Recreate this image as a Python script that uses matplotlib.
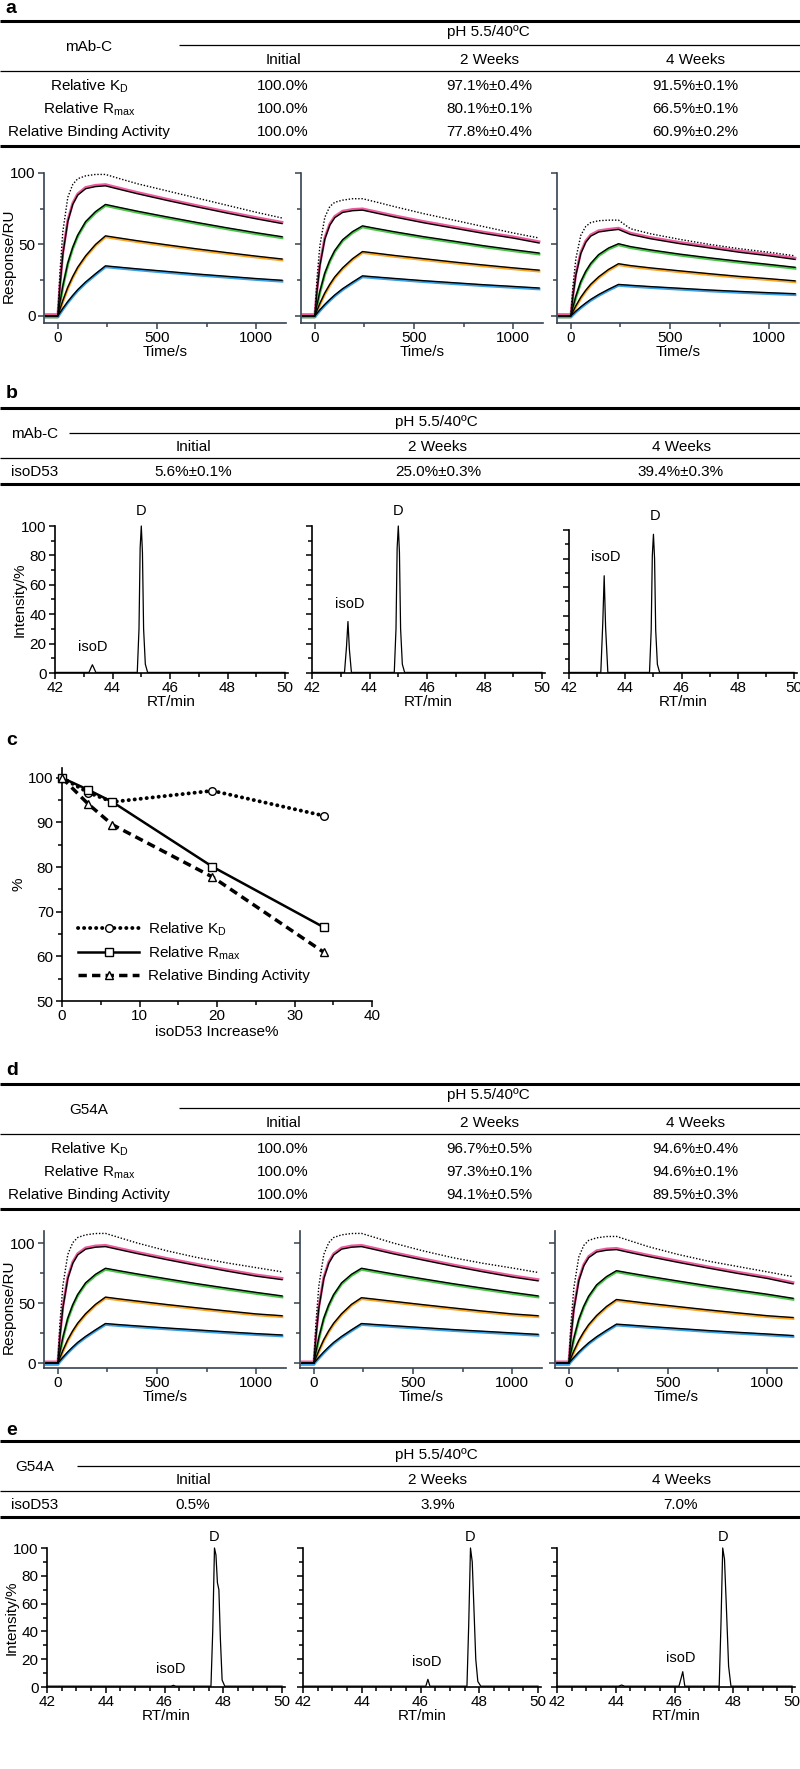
import matplotlib
matplotlib.use('Agg')
import matplotlib.pyplot as plt
from matplotlib.ticker import MultipleLocator
from matplotlib.transforms import offset_copy

plt.rcParams['font.family'] = ['Liberation Sans', 'DejaVu Sans']
plt.rcParams['mathtext.fontset'] = 'custom'
plt.rcParams['mathtext.rm'] = 'Liberation Sans'

W, H = 800, 1769

# ---- table contents ----
TIME_POINTS = ['Initial', '2 Weeks', '4 Weeks']
CONDITION = 'pH 5.5/40ºC'
ROW_NAMES = [r'Relative K$_\mathregular{D}$', r'Relative R$_\mathregular{max}$',
             'Relative Binding Activity']
MABC_BINDING = [['100.0%', '97.1%±0.4%', '91.5%±0.1%'],
                ['100.0%', '80.1%±0.1%', '66.5%±0.1%'],
                ['100.0%', '77.8%±0.4%', '60.9%±0.2%']]
G54A_BINDING = [['100.0%', '96.7%±0.5%', '94.6%±0.4%'],
                ['100.0%', '97.3%±0.1%', '94.6%±0.1%'],
                ['100.0%', '94.1%±0.5%', '89.5%±0.3%']]
MABC_ISOD = ['5.6%±0.1%', '25.0%±0.3%', '39.4%±0.3%']
G54A_ISOD = ['0.5%', '3.9%', '7.0%']

# ---- sensorgrams: reference (dotted), then 4 concentrations ----
SPR_T = [-60, 0, 10, 25, 50, 75, 100, 140, 190, 240, 300, 400, 550, 700, 850, 1000, 1130]
SPR_A_INITIAL = [
    [0, 0, 30, 59, 83, 92, 96, 98, 99, 99, 96.5, 92.5, 87.5, 82.5, 77.5, 72.5, 68.5],
    [0, 0, 20, 43, 66, 78, 84.5, 89, 90.5, 91, 88.9, 85.5, 80.8, 76.3, 72, 67.9, 64.6],
    [0, 0, 9, 21, 37, 48, 56.5, 66, 73, 78, 76.2, 73.3, 69.3, 65.4, 61.7, 58.2, 55.4],
    [0, 0, 4.5, 10.7, 20, 27.5, 34, 42, 50, 56, 54.7, 52.6, 49.7, 46.9, 44.3, 41.8, 39.8],
    [0, 0, 2.1, 5.2, 10, 14.3, 18.3, 23.7, 29.5, 35, 34.2, 32.9, 31.1, 29.3, 27.7, 26.1, 24.9]]
SPR_A_2W = [
    [0, 0, 25, 49, 69, 76.5, 79.5, 81, 82, 82, 80, 76.5, 71.5, 67, 62.5, 58, 54.5],
    [0, 0, 16.3, 35, 53.7, 63.4, 68.7, 72.4, 73.6, 74, 72.2, 69.2, 65.1, 61.4, 57.7, 54.4, 51],
    [0, 0, 7.3, 17, 29.9, 38.8, 45.7, 53.3, 59, 63, 61.4, 58.9, 55.4, 52.3, 49.1, 46.3, 44],
    [0, 0, 3.6, 8.6, 16, 22, 27.2, 33.6, 40, 45, 44, 42.3, 40, 37.7, 35.6, 33.6, 32],
    [0, 0, 1.7, 4.2, 8, 11.4, 14.6, 19, 23.6, 28, 27.3, 26.2, 24.6, 23.2, 21.8, 20.6, 19.5]]
SPR_A_4W = [
    [0, 0, 20.4, 40, 56.4, 62.6, 65.3, 66.6, 67, 67, 61, 57.5, 53.5, 50, 47, 44.5, 42],
    [0, 0, 13.2, 28.4, 43.6, 51.5, 55.8, 58.7, 59.7, 60.5, 57, 54, 50.5, 47.5, 44.5, 42, 39.5],
    [0, 0, 5.9, 13.7, 24, 31.2, 36.7, 42.9, 47.5, 50.5, 48.5, 46.2, 43.2, 40.6, 38.2, 36, 34],
    [0, 0, 2.9, 7, 13, 17.9, 22.1, 27.3, 32.5, 36.5, 35.2, 33.6, 31.5, 29.5, 27.6, 26, 24.5],
    [0, 0, 1.3, 3.3, 6.3, 9, 11.5, 14.9, 18.6, 22, 21.4, 20.5, 19.3, 18.1, 17.1, 16.2, 15.5]]
SPR_D_INITIAL = [
    [0, 0, 32.7, 64.3, 90.5, 100.3, 104.6, 106.8, 107.9, 108, 105, 100, 93.5, 88, 83.5, 79.5, 76],
    [0, 0, 21.3, 45.8, 70.4, 83.1, 90.1, 94.9, 96.5, 97, 94.8, 91.2, 86.1, 81.3, 76.7, 72.4, 69.5],
    [0, 0, 9.1, 21.3, 37.5, 48.6, 57.2, 66.9, 74, 79, 77.2, 74.3, 70.2, 66.2, 62.5, 58.9, 56],
    [0, 0, 4.4, 10.5, 19.6, 27, 33.3, 41.2, 49, 55, 53.7, 51.7, 48.8, 46.1, 43.5, 41, 39.5],
    [0, 0, 2, 4.9, 9.4, 13.5, 17.3, 22.3, 27.8, 33, 32.2, 31, 29.3, 27.7, 26.1, 24.6, 23.5]]
SPR_D_2W = [
    [0, 0, 32.7, 64.3, 90.5, 100.3, 104.6, 106.8, 107.9, 108, 105, 100, 93.5, 87.8, 83.2, 79.2, 75.5],
    [0, 0, 21.3, 45.8, 70.4, 83.1, 90.1, 94.9, 96.5, 97, 94.8, 91, 85.8, 80.8, 76.1, 71.7, 68.5],
    [0, 0, 9.1, 21.3, 37.5, 48.6, 57.2, 66.9, 74, 79, 77.2, 74.3, 70.2, 66.2, 62.5, 58.9, 56],
    [0, 0, 4.4, 10.5, 19.6, 27, 33.3, 41.2, 49, 54.5, 53.4, 51.5, 48.7, 46, 43.4, 41, 39.5],
    [0, 0, 2, 4.9, 9.4, 13.5, 17.3, 22.3, 27.8, 33, 32.3, 31.2, 29.6, 28, 26.6, 25.2, 24]]
SPR_D_4W = [
    [0, 0, 31.9, 62.8, 88.4, 98, 102.2, 104.3, 105.4, 105.5, 102.3, 97, 90.5, 85, 80.5, 76, 72],
    [0, 0, 20.8, 44.6, 68.6, 81, 87.8, 92.5, 94, 94.5, 92.3, 88.8, 83.9, 79.2, 74.7, 70.5, 66],
    [0, 0, 8.9, 20.8, 36.5, 47.4, 55.8, 65.2, 72.1, 77, 75.2, 72.4, 68.4, 64.5, 60.9, 57.4, 54],
    [0, 0, 4.2, 10.1, 18.9, 26, 32.1, 39.7, 47.2, 53, 51.8, 49.8, 47.1, 44.4, 41.9, 39.5, 38],
    [0, 0, 2, 4.8, 9.3, 13.3, 17, 22, 27.4, 32.5, 31.8, 30.6, 28.9, 27.2, 25.7, 24.3, 23]]
SPR_COLORS = ['#ee5a9e', '#49c449', '#f7a428', '#3a9ee2']
SPR_SHIFT = [1.3, -1.1, -1.0, -1.0]   # data trace sits a hair off the black fit

# ---- peptide map chromatograms ----
B_RT_INITIAL = [42.0, 43.18, 43.25, 43.3, 43.35, 43.42, 44.86, 44.92, 44.96, 45.0, 45.04, 45.08, 45.14, 45.22, 50.0]
B_INT_INITIAL = [0.4, 0.4, 3.5, 5.6, 3.5, 0.4, 0.4, 30, 85, 100, 82, 30, 6, 0.4, 0.4]
B_RT_2W = [42.0, 43.13, 43.2, 43.25, 43.3, 43.37, 44.86, 44.92, 44.96, 45.0, 45.04, 45.08, 45.14, 45.22, 50.0]
B_INT_2W = [0.4, 0.4, 18, 35, 16, 0.4, 0.4, 30, 85, 100, 82, 30, 6, 0.4, 0.4]
B_RT_4W = [42.0, 43.13, 43.2, 43.25, 43.3, 43.38, 44.86, 44.92, 44.96, 45.0, 45.04, 45.08, 45.14, 45.22, 50.0]
B_INT_4W = [0.4, 0.4, 35, 68, 32, 0.4, 0.4, 30, 82, 97, 80, 30, 6, 0.4, 0.4]
E_RT_INITIAL = [42.0, 46.22, 46.3, 46.38, 47.58, 47.64, 47.7, 47.75, 47.8, 47.85, 47.9, 47.96, 48.05, 50.0]
E_INT_INITIAL = [0.6, 0.6, 1.2, 0.6, 0.6, 40, 100, 95, 75, 70, 35, 5, 0.6, 0.6]
E_RT_2W = [42.0, 46.18, 46.25, 46.32, 47.58, 47.64, 47.7, 47.76, 47.82, 47.88, 47.95, 48.05, 50.0]
E_INT_2W = [0.6, 0.6, 5.5, 0.6, 0.6, 45, 100, 90, 55, 20, 4, 0.6, 0.6]
E_RT_4W = [42.0, 44.1, 44.2, 44.3, 46.15, 46.22, 46.28, 46.35, 47.52, 47.58, 47.64, 47.7, 47.76, 47.84, 47.92, 50.0]
E_INT_4W = [0.6, 0.6, 1.4, 0.6, 0.6, 6, 11, 0.6, 0.6, 45, 100, 92, 60, 15, 0.6, 0.6]

# ---- panel c ----
ISOD_INCREASE = [0, 3.4, 6.5, 19.4, 33.8]
REL_KD = [100, 96.7, 94.6, 97.1, 91.5]
REL_RMAX = [100, 97.3, 94.6, 80.1, 66.5]
REL_RBA = [100, 94.1, 89.5, 77.8, 60.9]

fig = plt.figure(figsize=(W / 100, H / 100), dpi=100)

def px_ax(left, top, width, height):
    return fig.add_axes([left / W, 1 - (top + height) / H, width / W, height / H])

canvas = fig.add_axes([0, 0, 1, 1])
canvas.set_xlim(0, W)
canvas.set_ylim(H, 0)
canvas.axis('off')

TFS = 11

def hline(y, x0=0, x1=W, lw=0.8):
    canvas.plot([x0, x1], [y, y], color='black', lw=lw, solid_capstyle='butt')

def binding_table(top, name, rows):
    hline(top, lw=2.2)
    canvas.text(488, top + 11, CONDITION, ha='center', va='center', fontsize=TFS)
    hline(top + 24, x0=179, lw=0.9)
    canvas.text(89, top + 26, name, ha='center', va='center', fontsize=TFS)
    for x, t in zip([283, 489, 695], TIME_POINTS):
        canvas.text(x, top + 39, t, ha='center', va='center', fontsize=TFS)
    hline(top + 50, lw=0.9)
    for i, (rn, vals) in enumerate(zip(ROW_NAMES, rows)):
        y = top + 65 + 23 * i
        canvas.text(89, y, rn, ha='center', va='center', fontsize=TFS)
        for x, v in zip([283, 489, 695], vals):
            canvas.text(x, y, v, ha='center', va='center', fontsize=TFS)
    hline(top + 125, lw=2.2)

def isod_table(top, name, vals, line_x0):
    hline(top, lw=2.2)
    canvas.text(436, top + 14, CONDITION, ha='center', va='center', fontsize=TFS)
    hline(top + 25, x0=line_x0, lw=0.9)
    canvas.text(35, top + 26, name, ha='center', va='center', fontsize=TFS)
    for x, t in zip([193, 438, 681], TIME_POINTS):
        canvas.text(x, top + 39, t, ha='center', va='center', fontsize=TFS)
    hline(top + 50, lw=0.9)
    canvas.text(35, top + 64, 'isoD53', ha='center', va='center', fontsize=TFS)
    for x, v in zip([193, 438, 681], vals):
        canvas.text(x, top + 64, v, ha='center', va='center', fontsize=TFS)
    hline(top + 76, lw=2.2)

for lab, (x, y) in zip('abcde', [(5, 8), (6, 393), (6, 740), (6, 1070), (6, 1430)]):
    canvas.text(x, y, lab, fontsize=14, fontweight='bold', ha='left', va='center')

binding_table(21, 'mAb-C', MABC_BINDING)
binding_table(1084, 'G54A', G54A_BINDING)
isod_table(408, 'mAb-C', MABC_ISOD, 69)
isod_table(1441, 'G54A', G54A_ISOD, 77)

SPINE = '#34424f'

def style_axes(ax, color='black'):
    for s in ['top', 'right']:
        ax.spines[s].set_visible(False)
    for s in ['left', 'bottom']:
        ax.spines[s].set_color(color)
        ax.spines[s].set_linewidth(1.2)
    ax.tick_params(which='both', direction='out', color=color, width=1.1, labelsize=11, pad=2)
    ax.tick_params(which='major', length=4)
    ax.tick_params(which='minor', length=3)

def sensorgram(ax, curves, ylim, show_y):
    ref, conc = curves[0], curves[1:]
    for c, dy, vals in zip(SPR_COLORS, SPR_SHIFT, conc):
        tr = offset_copy(ax.transData, fig=fig, x=0, y=dy, units='dots')
        ax.plot(SPR_T, vals, color=c, lw=2.0, transform=tr)
    for vals in conc:
        ax.plot(SPR_T, vals, color='black', lw=1.0)
    ax.plot(SPR_T, ref, color='black', lw=1.0, linestyle=(0, (1, 1.3)))
    ax.set_xlim(-70, 1150)
    ax.set_ylim(*ylim)
    ax.xaxis.set_major_locator(MultipleLocator(500))
    ax.xaxis.set_minor_locator(MultipleLocator(250))
    ax.yaxis.set_major_locator(MultipleLocator(50))
    ax.yaxis.set_minor_locator(MultipleLocator(25))
    style_axes(ax, SPINE)
    ax.set_xlabel('Time/s', fontsize=11, labelpad=0)
    if show_y:
        ax.set_ylabel('Response/RU', fontsize=11)
        ax.yaxis.set_label_coords(-0.115, 0.45)
    else:
        ax.tick_params(axis='y', labelleft=False)

for left, curves, first in zip([44, 301, 557], [SPR_A_INITIAL, SPR_A_2W, SPR_A_4W], [True, False, False]):
    sensorgram(px_ax(left, 173, 242, 150), curves, (-5, 100), first)
for left, curves, first in zip([44, 300, 555], [SPR_D_INITIAL, SPR_D_2W, SPR_D_4W], [True, False, False]):
    sensorgram(px_ax(left, 1231, 242, 137), curves, (-4, 110), first)

def chromatogram(ax, rt, inten, show_y, minor_x, labels):
    ax.plot(rt, inten, color='black', lw=0.9, clip_on=False)
    ax.set_xlim(42, 50.1)
    ax.set_ylim(0, 100)
    ax.xaxis.set_major_locator(MultipleLocator(2))
    ax.xaxis.set_minor_locator(MultipleLocator(minor_x))
    ax.yaxis.set_major_locator(MultipleLocator(20))
    ax.yaxis.set_minor_locator(MultipleLocator(10))
    style_axes(ax)
    ax.set_xlabel('RT/min', fontsize=11, labelpad=0)
    if show_y:
        ax.set_ylabel('Intensity/%', fontsize=11)
        ax.yaxis.set_label_coords(-0.12, 0.5)
    else:
        ax.tick_params(axis='y', labelleft=False)
    for txt, x, y in labels:
        ax.text(x, y, txt, ha='center', va='center', fontsize=10.5, clip_on=False)

chromatogram(px_ax(55, 526, 233, 147), B_RT_INITIAL, B_INT_INITIAL, True, 1,
             [('D', 45.0, 110), ('isoD', 43.3, 18)])
chromatogram(px_ax(312, 526, 233, 147), B_RT_2W, B_INT_2W, False, 1,
             [('D', 45.0, 110), ('isoD', 43.3, 47)])
chromatogram(px_ax(569, 530, 228, 143), B_RT_4W, B_INT_4W, False, 1,
             [('D', 45.05, 110), ('isoD', 43.3, 81)])
chromatogram(px_ax(47, 1548, 238, 139), E_RT_INITIAL, E_INT_INITIAL, True, 0.5,
             [('D', 47.7, 108), ('isoD', 46.2, 13)])
chromatogram(px_ax(303, 1548, 238, 139), E_RT_2W, E_INT_2W, False, 0.5,
             [('D', 47.7, 108), ('isoD', 46.2, 18)])
chromatogram(px_ax(557, 1548, 238, 139), E_RT_4W, E_INT_4W, False, 0.5,
             [('D', 47.65, 108), ('isoD', 46.2, 21)])

# ---- panel c ----
axc = px_ax(62, 768, 310, 233)
mk = dict(markerfacecolor='white', markeredgecolor='black', markeredgewidth=1.0,
          markersize=5.5, color='black', clip_on=False)
axc.plot(ISOD_INCREASE, REL_KD, linestyle=(0, (0.05, 1.5)), lw=2.8,
         dash_capstyle='round', marker='o', label=ROW_NAMES[0], zorder=3, **mk)
axc.plot(ISOD_INCREASE, REL_RMAX, linestyle='-', lw=1.8, marker='s',
         label=ROW_NAMES[1], zorder=4, **mk)
axc.plot(ISOD_INCREASE, REL_RBA, linestyle=(0, (2.4, 1.5)), lw=2.5, marker='^',
         label=ROW_NAMES[2], zorder=5, **mk)
axc.set_xlim(0, 40)
axc.set_ylim(50, 102.2)
axc.xaxis.set_major_locator(MultipleLocator(10))
axc.xaxis.set_minor_locator(MultipleLocator(5))
axc.yaxis.set_major_locator(MultipleLocator(10))
axc.yaxis.set_minor_locator(MultipleLocator(5))
style_axes(axc)
axc.set_xlabel('isoD53 Increase%', fontsize=11, labelpad=1)
axc.set_ylabel('%', fontsize=11, labelpad=2)
axc.legend(loc='upper left', bbox_to_anchor=((78 - 62) / 310, (1001 - 920) / 233),
           frameon=False, fontsize=11, handlelength=4.0, handletextpad=0.6,
           labelspacing=0.45, borderpad=0, borderaxespad=0)

fig.savefig('out.png', dpi=100)
